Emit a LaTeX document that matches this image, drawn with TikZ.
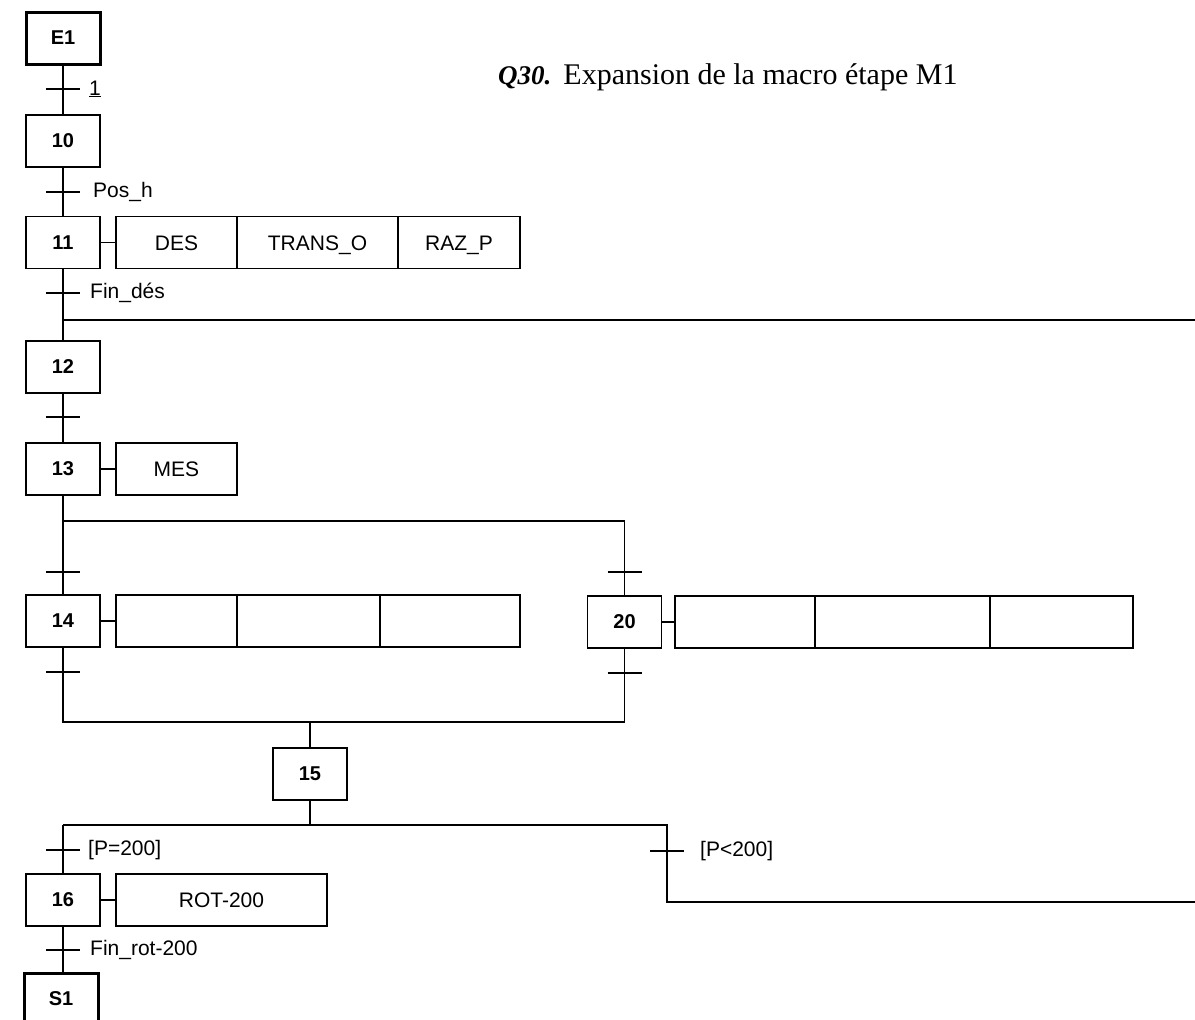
\documentclass[tikz,border=0pt]{standalone}
\usepackage{fontspec}
\setmainfont{Liberation Serif}
\setsansfont{Liberation Sans}
\begin{document}
\begin{tikzpicture}[x=1pt,y=-1pt,
  stepbox/.style={draw, line width=1.5pt, minimum width=74pt, minimum height=52pt, inner sep=0pt,
    font=\sffamily\bfseries\fontsize{20}{20}\selectfont},
  initbox/.style={stepbox, line width=3pt},
  actbox/.style={draw, line width=1.5pt, minimum height=52pt, inner sep=0pt, outer sep=0pt, anchor=west,
    text height=15pt, text depth=0pt, font=\sffamily\fontsize{21}{21}\selectfont},
  link/.style={line width=1.5pt},
  tlabel/.style={anchor=west, inner sep=0pt, font=\sffamily\fontsize{21}{21}\selectfont},
  tick/.style={line width=1.5pt}
]
\clip (0,0) rectangle (1195,1020);
% title
\node[anchor=base west, inner sep=0pt, font=\fontsize{30}{30}\selectfont] (title) at (498,84)
  {{\fontsize{27}{27}\selectfont\textbf{\textit{Q30.}}}\hspace{12pt}Expansion de la macro étape M1};
% steps
\node[initbox] (E1) at (63,38) {E1};
\node[stepbox] (s10) at (63,141) {10};
\node[stepbox] (s11) at (63,242.5) {11};
\node[stepbox] (s12) at (63,367) {12};
\node[stepbox] (s13) at (63,469) {13};
\node[stepbox] (s14) at (63,621) {14};
\node[stepbox] (s20) at (624.5,622) {20};
\node[stepbox] (s15) at (310,774) {15};
\node[stepbox] (s16) at (63,900) {16};
\node[initbox] (S1) at (61,999) {S1};
% actions
\node[actbox, minimum width=121pt] (a11a) at (116,242.5) {DES};
\node[actbox, minimum width=161pt] (a11b) at (a11a.east) {TRANS\_O};
\node[actbox, minimum width=122pt] (a11c) at (a11b.east) {RAZ\_P};
\node[actbox, minimum width=121pt] (a13) at (116,469) {MES};
\node[actbox, minimum width=121pt] (a14a) at (116,621) {};
\node[actbox, minimum width=143pt] (a14b) at (a14a.east) {};
\node[actbox, minimum width=140pt] (a14c) at (a14b.east) {};
\node[actbox, minimum width=140pt] (a20a) at (675,622) {};
\node[actbox, minimum width=175pt] (a20b) at (a20a.east) {};
\node[actbox, minimum width=143pt] (a20c) at (a20b.east) {};
\node[actbox, minimum width=211pt] (a16) at (116,900) {ROT-200};
% step-action links
\draw[link] (s11.east) -- (a11a.west);
\draw[link] (s13.east) -- (a13.west);
\draw[link] (s14.east) -- (a14a.west);
\draw[link] (s20.east) -- (a20a.west);
\draw[link] (s16.east) -- (a16.west);
% coordinates
\coordinate (t1) at (63,89);
\coordinate (t2) at (63,192);
\coordinate (t3) at (63,293);
\coordinate (j1) at (63,320);
\coordinate (j1e) at (1195,320);
\coordinate (t4) at (63,417);
\coordinate (d1) at (63,521);
\coordinate (d2) at (624.5,521);
\coordinate (t5) at (63,572);
\coordinate (t6) at (624.5,572);
\coordinate (t7) at (63,672);
\coordinate (t8) at (624.5,673);
\coordinate (c1) at (63,722);
\coordinate (c2) at (624.5,722);
\coordinate (c3) at (310,722);
\coordinate (e1) at (310,825);
\coordinate (e2) at (63,825);
\coordinate (e3) at (667,825);
\coordinate (t9) at (63,850);
\coordinate (t10) at (667,851);
\coordinate (e4) at (667,902);
\coordinate (e5) at (1195,902);
\coordinate (t11) at (63,950);
% connectors
\draw[link] (E1.south) -- (s10.north);
\draw[link] (s10.south) -- (s11.north);
\draw[link] (s11.south) -- (s12.north);
\draw[link] (j1) -- (j1e);
\draw[link] (s12.south) -- (s13.north);
\draw[link] (s13.south) -- (d1) -- (d2) -- (s20.north);
\draw[link] (d1) -- (s14.north);
\draw[link] (s14.south) -- (c1) -- (c2) -- (s20.south);
\draw[link] (c3) -- (s15.north);
\draw[link] (s15.south) -- (e1);
\draw[link] (e2) -- (e3) -- (e4) -- (e5);
\draw[link] (e2) -- (s16.north);
\draw[link] (s16.south) -- (S1.north -| s16.south);
% transitions
\foreach \t in {t1,t2,t3,t4,t5,t6,t7,t8,t9,t10,t11}
  \draw[tick] (\t) +(-17,0) -- +(17,0);
\node[tlabel] (l1) at ([xshift=26pt]t1) {\underline{1}};
\node[tlabel] (l2) at ([xshift=30pt]t2) {Pos\_h};
\node[tlabel] (l3) at ([xshift=27pt]t3) {Fin\_dés};
\node[tlabel] (l9) at ([xshift=25pt]t9) {[P=200]};
\node[tlabel] (l10) at ([xshift=33pt]t10) {[P<200]};
\node[tlabel] (l11) at ([xshift=27pt]t11) {Fin\_rot-200};
\end{tikzpicture}
\end{document}
